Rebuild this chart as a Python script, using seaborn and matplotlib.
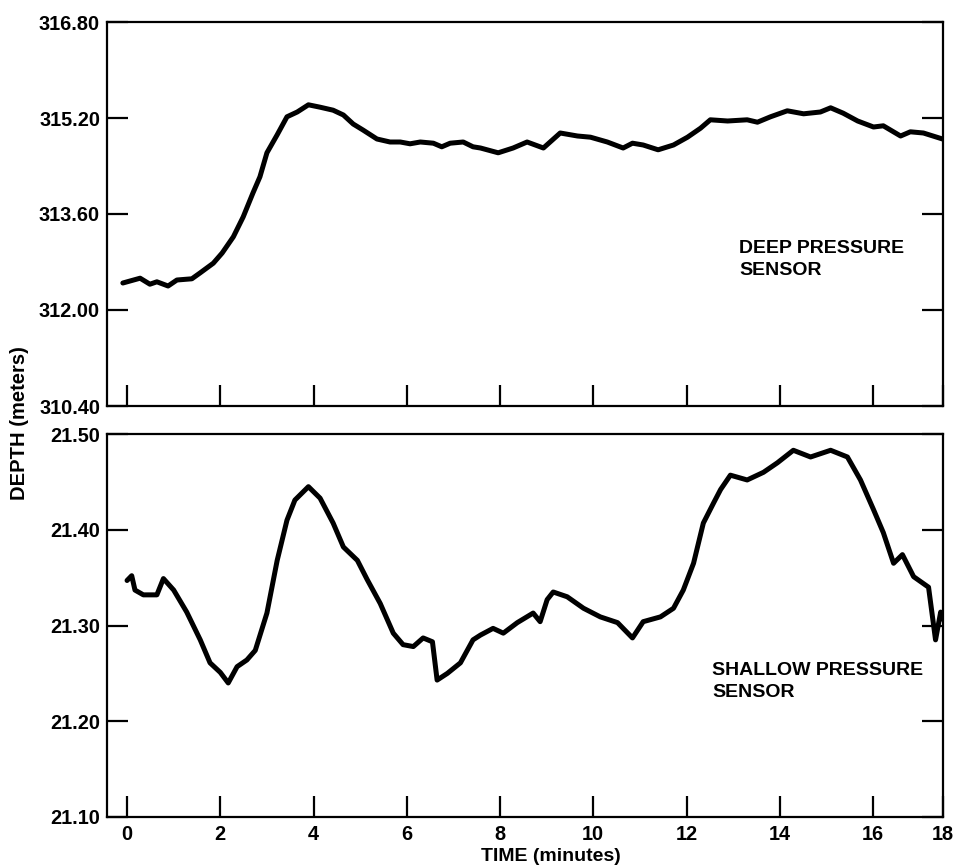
import numpy as np
import pandas as pd
import matplotlib
matplotlib.use("Agg")
import matplotlib.pyplot as plt
import seaborn as sns

# ---- data ----
deep_time = [-0.09, 0.28, 0.49, 0.64, 0.88, 1.07, 1.39, 1.57, 1.85, 2.04, 2.28, 2.49, 2.70,
             2.85, 3.00, 3.22, 3.43, 3.65, 3.89, 4.14, 4.42, 4.64, 4.85, 5.06, 5.36, 5.64,
             5.86, 6.07, 6.29, 6.57, 6.75, 6.93, 7.21, 7.42, 7.58, 7.96, 8.28, 8.58, 8.93,
             9.29, 9.66, 9.94, 10.30, 10.64, 10.84, 11.07, 11.39, 11.72, 12.02, 12.30, 12.51,
             12.88, 13.30, 13.52, 13.80, 14.16, 14.51, 14.87, 15.09, 15.36, 15.67, 16.01,
             16.22, 16.59, 16.80, 17.08, 17.49]
deep_depth = [312.45, 312.53, 312.43, 312.47, 312.40, 312.50, 312.52, 312.62, 312.78, 312.95,
              313.22, 313.55, 313.95, 314.22, 314.62, 314.92, 315.22, 315.30, 315.42, 315.38,
              315.33, 315.25, 315.10, 315.00, 314.85, 314.80, 314.80, 314.77, 314.80, 314.78,
              314.72, 314.78, 314.80, 314.72, 314.70, 314.62, 314.70, 314.80, 314.70, 314.95,
              314.90, 314.88, 314.80, 314.70, 314.78, 314.75, 314.67, 314.75, 314.88, 315.03,
              315.17, 315.15, 315.17, 315.13, 315.22, 315.32, 315.27, 315.30, 315.37, 315.28,
              315.15, 315.05, 315.07, 314.90, 314.97, 314.95, 314.85]

shallow_time = [0.00, 0.10, 0.17, 0.35, 0.64, 0.78, 1.00, 1.28, 1.57, 1.78, 2.00, 2.17, 2.36,
                2.57, 2.75, 3.00, 3.22, 3.43, 3.60, 3.89, 4.14, 4.42, 4.64, 4.94, 5.15, 5.43,
                5.71, 5.92, 6.14, 6.35, 6.55, 6.65, 6.87, 7.15, 7.42, 7.58, 7.85, 8.07, 8.37,
                8.71, 8.86, 9.01, 9.14, 9.44, 9.79, 10.15, 10.52, 10.84, 11.07, 11.44, 11.72,
                11.93, 12.15, 12.36, 12.58, 12.73, 12.94, 13.30, 13.65, 13.95, 14.29, 14.66,
                15.09, 15.45, 15.73, 16.01, 16.22, 16.44, 16.63, 16.87, 17.19, 17.34, 17.45, 17.51]
shallow_depth = [21.347, 21.352, 21.337, 21.332, 21.332, 21.349, 21.337, 21.314, 21.285, 21.261,
                 21.251, 21.240, 21.257, 21.264, 21.274, 21.313, 21.368, 21.410, 21.431, 21.445,
                 21.433, 21.407, 21.382, 21.368, 21.348, 21.323, 21.292, 21.280, 21.278, 21.287,
                 21.283, 21.243, 21.250, 21.261, 21.285, 21.290, 21.297, 21.292, 21.303, 21.313,
                 21.304, 21.327, 21.335, 21.330, 21.318, 21.309, 21.303, 21.287, 21.304, 21.309,
                 21.318, 21.337, 21.365, 21.407, 21.428, 21.442, 21.457, 21.452, 21.460, 21.470,
                 21.483, 21.476, 21.483, 21.476, 21.452, 21.421, 21.397, 21.365, 21.374, 21.351,
                 21.340, 21.285, 21.314, 21.306]

x_tick_pos = [0, 2, 4, 6, 8, 10, 12, 14, 16, 17.5]
x_tick_labels = ["0", "2", "4", "6", "8", "10", "12", "14", "16", "18"]
deep_ticks = [310.40, 312.00, 313.60, 315.20, 316.80]
shallow_ticks = [21.10, 21.20, 21.30, 21.40, 21.50]

deep_df = pd.DataFrame({"time": deep_time, "depth": deep_depth})
shallow_df = pd.DataFrame({"time": shallow_time, "depth": shallow_depth})

sns.set_style("ticks")
plt.rcParams["font.family"] = ["Liberation Sans", "DejaVu Sans"]
plt.rcParams["font.weight"] = "bold"
for k in ["text.color", "axes.labelcolor", "xtick.color", "ytick.color", "axes.edgecolor"]:
    plt.rcParams[k] = "black"

fig = plt.figure(figsize=(9.59, 8.68), dpi=100)
W, H = 959, 868
left, right = 107 / W, 943 / W
ax1 = fig.add_axes([left, 1 - 406 / H, right - left, (406 - 22) / H])
ax2 = fig.add_axes([left, 1 - 817 / H, right - left, (817 - 434) / H])

sns.lineplot(data=deep_df, x="time", y="depth", ax=ax1, color="black", lw=3.6, sort=False)
sns.lineplot(data=shallow_df, x="time", y="depth", ax=ax2, color="black", lw=3.6, sort=False)

TICK_FS = 14.3
xlim = (-0.43, 17.5)
for ax, ticks in [(ax1, deep_ticks), (ax2, shallow_ticks)]:
    ax.set_xlim(*xlim)
    ax.set_ylim(ticks[0], ticks[-1])
    ax.set_yticks(ticks)
    ax.set_yticklabels(["{:.2f}".format(t) for t in ticks], fontsize=TICK_FS, fontweight="bold")
    ax.set_xticks(x_tick_pos)
    ax.set_xlabel("")
    ax.set_ylabel("")
    for s in ax.spines.values():
        s.set_linewidth(1.6)
        s.set_color("black")
    ax.tick_params(axis="x", direction="in", length=15, width=1.6, pad=6,
                   top=False, bottom=True, colors="black")
    ax.tick_params(axis="y", direction="in", length=15, width=1.6, pad=5,
                   left=True, right=True, colors="black")
    ax.set_facecolor("white")

ax1.set_xticklabels([])
ax2.set_xticklabels(x_tick_labels, fontsize=TICK_FS, fontweight="bold")

ax1.text(13.13, 313.17, "DEEP PRESSURE\nSENSOR", fontsize=14, fontweight="bold",
         ha="left", va="top", linespacing=1.4)
ax2.text(12.55, 21.262, "SHALLOW PRESSURE\nSENSOR", fontsize=14, fontweight="bold",
         ha="left", va="top", linespacing=1.4)

ax2.set_xlabel("TIME (minutes)", fontsize=14, fontweight="bold")
ax2.xaxis.set_label_coords(0.531, -0.082)

fig.text(0.02, 1 - 423 / H, "DEPTH (meters)", rotation=90, fontsize=14.5,
         fontweight="bold", ha="center", va="center")

fig.savefig("out.png", dpi=100, facecolor="white")
